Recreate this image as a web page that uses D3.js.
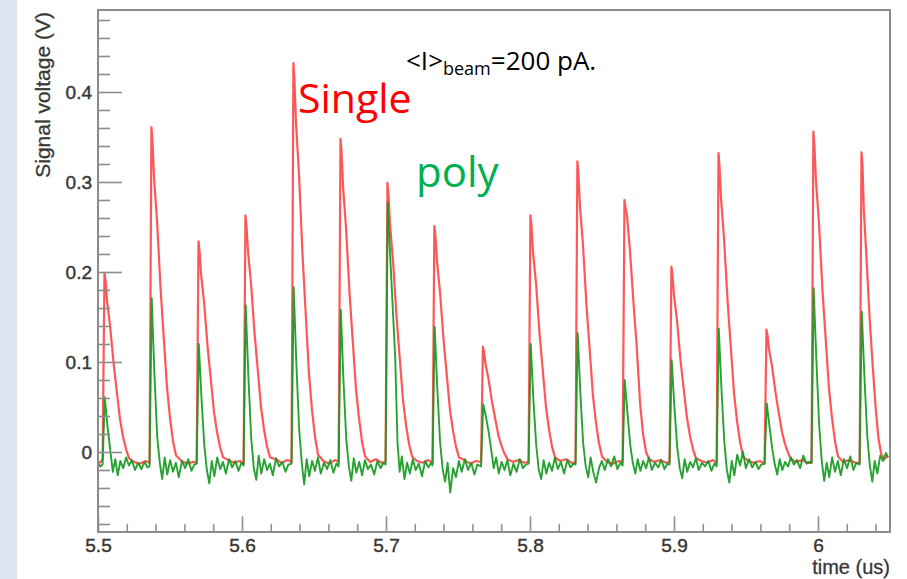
<!DOCTYPE html>
<html><head><meta charset="utf-8">
<script src="https://cdn.jsdelivr.net/npm/d3@7"></script>
<style>
html,body{margin:0;padding:0;background:#fff;}
svg{display:block;}
</style></head><body>
<svg id="chart" width="907" height="579"></svg>
<script>
// ---- axis definitions ----
const xDomain = [5.5, 6.05];
const yDomain = [-0.0889, 0.4911];
const xMajorTicks = [5.5, 5.6, 5.7, 5.8, 5.9, 6.0];
const xTickLabels = ["5.5", "5.6", "5.7", "5.8", "5.9", "6"];
const xMinorTicks = [5.52,5.54,5.56,5.58,5.62,5.64,5.66,5.68,5.72,5.74,5.76,5.78,5.82,5.84,5.86,5.88,5.92,5.94,5.96,5.98,6.02,6.04];
const yMajorTicks = [0, 0.1, 0.2, 0.3, 0.4];
const yTickLabels = ["0", "0.1", "0.2", "0.3", "0.4"];
const yMinorTicks = [-0.08,-0.06,-0.04,-0.02,0.02,0.04,0.06,0.08,0.12,0.14,0.16,0.18,0.22,0.24,0.26,0.28,0.32,0.34,0.36,0.38,0.42,0.44,0.46,0.48];
const xTitle = "time (us)";
const yTitle = "Signal voltage (V)";
const seriesNames = ["Single", "poly"];

// ---- "Single" (red) trace: [time us, volts] ----
const singleSeries = [
[5.5000,-0.012],[5.5020,-0.011],[5.5032,-0.008],[5.5045,0.199],[5.5052,0.191],[5.5063,0.168],[5.5084,0.140],[5.5108,0.099],[5.5129,0.069],[5.5153,0.036],[5.5174,0.017],[5.5195,0.003],[5.5216,-0.007],[5.5250,-0.011],[5.5290,-0.013],[5.5330,-0.010],
[5.5358,-0.012],[5.5371,0.361],[5.5378,0.346],[5.5389,0.305],[5.5410,0.257],[5.5434,0.183],[5.5455,0.131],[5.5479,0.072],[5.5500,0.038],[5.5521,0.012],[5.5542,-0.004],[5.5580,-0.010],[5.5620,-0.013],[5.5660,-0.011],
[5.5685,-0.012],[5.5698,0.234],[5.5705,0.224],[5.5716,0.197],[5.5737,0.166],[5.5761,0.117],[5.5782,0.083],[5.5806,0.044],[5.5827,0.022],[5.5848,0.005],[5.5869,-0.006],[5.5905,-0.009],[5.5945,-0.012],[5.5985,-0.010],
[5.6011,-0.013],[5.6024,0.263],[5.6031,0.252],[5.6042,0.222],[5.6063,0.187],[5.6087,0.132],[5.6108,0.094],[5.6132,0.050],[5.6153,0.025],[5.6174,0.006],[5.6195,-0.006],[5.6235,-0.008],[5.6275,-0.012],[5.6315,-0.009],
[5.6344,-0.011],[5.6357,0.432],[5.6364,0.414],[5.6375,0.366],[5.6396,0.308],[5.6420,0.220],[5.6441,0.158],[5.6465,0.087],[5.6486,0.047],[5.6507,0.017],[5.6528,-0.003],[5.6565,-0.010],[5.6605,-0.013],[5.6645,-0.009],
[5.6671,-0.011],[5.6684,0.348],[5.6691,0.334],[5.6702,0.294],[5.6723,0.248],[5.6747,0.176],[5.6768,0.126],[5.6792,0.069],[5.6813,0.037],[5.6834,0.011],[5.6855,-0.005],[5.6890,-0.011],[5.6930,-0.008],[5.6970,-0.012],
[5.6997,-0.011],[5.7010,0.299],[5.7017,0.287],[5.7028,0.253],[5.7049,0.212],[5.7073,0.151],[5.7094,0.107],[5.7118,0.058],[5.7139,0.030],[5.7160,0.009],[5.7181,-0.005],[5.7215,-0.010],[5.7255,-0.012],[5.7295,-0.009],
[5.7323,-0.012],[5.7336,0.251],[5.7343,0.241],[5.7354,0.212],[5.7375,0.178],[5.7399,0.126],[5.7420,0.089],[5.7444,0.047],[5.7465,0.024],[5.7486,0.006],[5.7507,-0.006],[5.7545,-0.009],[5.7585,-0.013],[5.7625,-0.010],
[5.7660,-0.011],[5.7673,0.117],[5.7680,0.112],[5.7691,0.098],[5.7712,0.081],[5.7736,0.056],[5.7757,0.038],[5.7781,0.018],[5.7802,0.007],[5.7823,-0.002],[5.7844,-0.008],[5.7880,-0.011],[5.7920,-0.009],[5.7960,-0.012],
[5.7990,-0.011],[5.8003,0.263],[5.8010,0.252],[5.8021,0.222],[5.8042,0.187],[5.8066,0.132],[5.8087,0.094],[5.8111,0.050],[5.8132,0.025],[5.8153,0.006],[5.8174,-0.006],[5.8210,-0.010],[5.8250,-0.008],[5.8290,-0.012],
[5.8316,-0.012],[5.8329,0.323],[5.8336,0.310],[5.8347,0.273],[5.8368,0.230],[5.8392,0.163],[5.8413,0.117],[5.8437,0.063],[5.8458,0.033],[5.8479,0.010],[5.8500,-0.005],[5.8535,-0.011],[5.8575,-0.013],[5.8615,-0.010],
[5.8643,-0.011],[5.8656,0.280],[5.8663,0.272],[5.8674,0.262],[5.8695,0.222],[5.8719,0.165],[5.8740,0.120],[5.8764,0.055],[5.8785,0.020],[5.8806,0.000],[5.8827,-0.008],[5.8865,-0.011],[5.8905,-0.009],[5.8945,-0.012],
[5.8969,-0.011],[5.8982,0.206],[5.8989,0.197],[5.9000,0.174],[5.9021,0.146],[5.9045,0.102],[5.9066,0.072],[5.9090,0.038],[5.9111,0.018],[5.9132,0.003],[5.9153,-0.007],[5.9190,-0.010],[5.9230,-0.012],[5.9270,-0.009],
[5.9296,-0.012],[5.9309,0.332],[5.9316,0.318],[5.9327,0.281],[5.9348,0.236],[5.9372,0.168],[5.9393,0.120],[5.9417,0.065],[5.9438,0.034],[5.9459,0.011],[5.9480,-0.005],[5.9515,-0.010],[5.9555,-0.012],[5.9595,-0.010],
[5.9629,-0.013],[5.9642,0.136],[5.9649,0.130],[5.9660,0.114],[5.9681,0.095],[5.9705,0.066],[5.9726,0.045],[5.9750,0.022],[5.9771,0.009],[5.9792,-0.001],[5.9813,-0.008],[5.9850,-0.011],[5.9890,-0.009],[5.9930,-0.012],
[5.9955,-0.012],[5.9968,0.356],[5.9975,0.341],[5.9986,0.301],[6.0007,0.254],[6.0031,0.180],[6.0052,0.129],[6.0076,0.071],[6.0097,0.038],[6.0118,0.012],[6.0139,-0.005],[6.0175,-0.011],[6.0215,-0.009],[6.0260,-0.012],
[6.0289,-0.012],[6.0302,0.333],[6.0309,0.319],[6.0318,0.270],[6.0337,0.215],[6.0358,0.150],[6.0378,0.100],[6.0400,0.050],[6.0420,0.015],[6.0440,-0.003],[6.0460,-0.008],[6.0486,-0.004]
];

// ---- "poly" (green) trace: [time us, volts] ----
const polySeries = [
[5.5000,-0.012],[5.5015,-0.016],[5.5032,-0.014],[5.5047,0.061],[5.5065,0.030],[5.5085,0.002],[5.5103,-0.022],[5.5120,-0.008],[5.5137,-0.026],[5.5155,-0.010],[5.5175,-0.018],[5.5195,-0.006],[5.5215,-0.015],[5.5235,-0.009],[5.5257,-0.020],[5.5279,-0.012],[5.5301,-0.019],[5.5323,-0.011],[5.5343,-0.017],
[5.5358,-0.016],[5.5373,0.171],[5.5391,0.090],[5.5411,0.017],[5.5429,-0.012],[5.5446,-0.030],[5.5463,-0.006],[5.5481,-0.025],[5.5501,-0.009],[5.5521,-0.022],[5.5541,-0.012],[5.5561,-0.028],[5.5583,-0.010],[5.5605,-0.018],[5.5627,-0.008],[5.5649,-0.021],[5.5669,-0.014],
[5.5685,-0.013],[5.5700,0.120],[5.5718,0.062],[5.5738,0.008],[5.5756,-0.020],[5.5773,-0.035],[5.5790,-0.010],[5.5808,-0.027],[5.5828,-0.006],[5.5848,-0.019],[5.5868,-0.011],[5.5888,-0.024],[5.5910,-0.008],[5.5932,-0.017],[5.5954,-0.010],[5.5976,-0.021],[5.5996,-0.012],
[5.6011,-0.015],[5.6026,0.163],[5.6044,0.085],[5.6064,0.015],[5.6082,-0.018],[5.6099,-0.031],[5.6116,-0.004],[5.6134,-0.024],[5.6154,-0.008],[5.6174,-0.020],[5.6194,-0.013],[5.6214,-0.026],[5.6236,-0.007],[5.6258,-0.016],[5.6280,-0.011],[5.6302,-0.022],[5.6322,-0.014],
[5.6344,-0.013],[5.6359,0.183],[5.6377,0.100],[5.6397,0.025],[5.6415,-0.012],[5.6432,-0.036],[5.6449,-0.008],[5.6467,-0.027],[5.6487,-0.010],[5.6507,-0.021],[5.6527,-0.006],[5.6547,-0.024],[5.6569,-0.012],[5.6591,-0.019],[5.6613,-0.009],[5.6635,-0.023],[5.6655,-0.013],
[5.6671,-0.016],[5.6686,0.158],[5.6704,0.082],[5.6724,0.014],[5.6742,-0.016],[5.6759,-0.032],[5.6776,-0.007],[5.6794,-0.023],[5.6814,-0.011],[5.6834,-0.026],[5.6854,-0.009],[5.6874,-0.019],[5.6896,-0.014],[5.6918,-0.025],[5.6940,-0.010],[5.6962,-0.018],[5.6982,-0.012],
[5.6997,-0.014],[5.7012,0.277],[5.7030,0.215],[5.7050,0.150],[5.7064,0.105],[5.7080,0.010],[5.7095,-0.022],[5.7110,-0.005],[5.7128,-0.030],[5.7146,-0.012],[5.7166,-0.024],[5.7186,-0.008],[5.7206,-0.020],[5.7228,-0.013],[5.7250,-0.027],[5.7272,-0.010],[5.7294,-0.017],[5.7314,-0.012],
[5.7323,-0.015],[5.7338,0.139],[5.7356,0.072],[5.7376,0.010],[5.7394,-0.020],[5.7411,-0.033],[5.7428,-0.012],[5.7446,-0.045],[5.7466,-0.018],[5.7486,-0.028],[5.7506,-0.010],[5.7526,-0.022],[5.7548,-0.008],[5.7570,-0.020],[5.7592,-0.012],[5.7614,-0.025],[5.7634,-0.014],
[5.7660,-0.016],[5.7675,0.053],[5.7693,0.040],[5.7713,0.022],[5.7731,0.002],[5.7748,-0.018],[5.7765,-0.006],[5.7783,-0.024],[5.7803,-0.011],[5.7823,-0.020],[5.7843,-0.009],[5.7863,-0.026],[5.7885,-0.013],[5.7907,-0.022],[5.7929,-0.008],[5.7951,-0.018],[5.7971,-0.014],
[5.7990,-0.013],[5.8005,0.120],[5.8023,0.060],[5.8043,0.008],[5.8061,-0.020],[5.8078,-0.030],[5.8095,-0.009],[5.8113,-0.024],[5.8133,-0.012],[5.8153,-0.021],[5.8173,-0.006],[5.8193,-0.019],[5.8215,-0.011],[5.8237,-0.024],[5.8259,-0.009],[5.8281,-0.017],[5.8301,-0.013],
[5.8316,-0.014],[5.8331,0.132],[5.8349,0.068],[5.8369,0.010],[5.8387,-0.016],[5.8404,-0.028],[5.8421,-0.006],[5.8439,-0.022],[5.8459,-0.034],[5.8479,-0.018],[5.8499,-0.010],[5.8519,-0.020],[5.8541,-0.008],[5.8563,-0.016],[5.8585,-0.005],[5.8607,-0.019],[5.8627,-0.012],
[5.8643,-0.015],[5.8658,0.080],[5.8676,0.045],[5.8696,0.008],[5.8714,-0.012],[5.8731,-0.024],[5.8748,-0.008],[5.8766,-0.021],[5.8786,-0.010],[5.8806,-0.018],[5.8826,-0.006],[5.8846,-0.020],[5.8868,-0.012],[5.8890,-0.017],[5.8912,-0.009],[5.8934,-0.019],[5.8954,-0.013],
[5.8969,-0.014],[5.8984,0.102],[5.9002,0.052],[5.9022,0.006],[5.9040,-0.018],[5.9057,-0.029],[5.9074,-0.008],[5.9092,-0.022],[5.9112,-0.011],[5.9132,-0.017],[5.9152,-0.007],[5.9172,-0.020],[5.9194,-0.012],[5.9216,-0.016],[5.9238,-0.010],[5.9260,-0.021],[5.9280,-0.013],
[5.9296,-0.016],[5.9311,0.137],[5.9329,0.072],[5.9349,0.012],[5.9367,-0.020],[5.9384,-0.034],[5.9401,-0.010],[5.9419,-0.026],[5.9439,-0.003],[5.9459,-0.015],[5.9479,0.000],[5.9499,-0.018],[5.9521,-0.008],[5.9543,-0.017],[5.9565,-0.011],[5.9587,-0.019],[5.9607,-0.014],
[5.9629,-0.013],[5.9644,0.054],[5.9662,0.030],[5.9682,0.004],[5.9700,-0.014],[5.9717,-0.025],[5.9734,-0.008],[5.9752,-0.020],[5.9772,-0.011],[5.9792,-0.016],[5.9812,-0.006],[5.9832,-0.014],[5.9854,-0.009],[5.9876,-0.018],[5.9898,-0.004],[5.9920,-0.013],[5.9940,-0.011],
[5.9955,-0.012],[5.9970,0.182],[5.9988,0.105],[6.0008,0.030],[6.0026,-0.010],[6.0043,-0.032],[6.0060,-0.012],[6.0078,-0.028],[6.0098,-0.006],[6.0118,-0.022],[6.0138,-0.010],[6.0158,-0.026],[6.0180,-0.008],[6.0202,-0.018],[6.0224,-0.005],[6.0246,-0.020],[6.0266,-0.012],
[6.0289,-0.014],[6.0304,0.156],[6.0322,0.085],[6.0342,0.018],[6.0360,-0.015],[6.0377,-0.033],[6.0394,-0.010],[6.0412,-0.024],[6.0432,-0.004],[6.0452,-0.010],[6.0472,-0.001],[6.0486,-0.006]
];

// ---- layout ----
const W = 907, H = 579;
const plot = {left: 98, right: 890, top: 10, bottom: 532};
const axisColor = "#8c8c8c";
const labelColor = "#383838";
const tickFont = "'Liberation Sans', Arial, Helvetica, sans-serif";

const svg = d3.select("#chart");
svg.append("rect").attr("x",0).attr("y",0).attr("width",W).attr("height",H).attr("fill","#ffffff");
svg.append("rect").attr("x",0).attr("y",0).attr("width",17).attr("height",H).attr("fill","#dce6f2");

const x = d3.scaleLinear().domain(xDomain).range([plot.left, plot.right]);
const y = d3.scaleLinear().domain(yDomain).range([plot.bottom, plot.top]);

svg.append("defs").append("clipPath").attr("id","clip")
  .append("rect").attr("x",plot.left).attr("y",plot.top)
  .attr("width",plot.right-plot.left).attr("height",plot.bottom-plot.top);

// traces
const line = d3.line().x(d => x(d[0])).y(d => y(d[1]));
const g = svg.append("g").attr("clip-path","url(#clip)");
g.append("path").datum(singleSeries).attr("d", line)
  .attr("fill","none").attr("stroke","#ff3a3a").attr("stroke-width",2.2)
  .attr("stroke-opacity",0.85).attr("stroke-linejoin","round");
g.append("path").datum(polySeries).attr("d", line)
  .attr("fill","none").attr("stroke","#159a1f").attr("stroke-width",1.9)
  .attr("stroke-opacity",0.92).attr("stroke-linejoin","round");

// axes
function styleAxis(sel){
  sel.select(".domain").remove();
  sel.selectAll(".tick line").attr("stroke",axisColor).attr("stroke-width",1.6);
  sel.selectAll("text").attr("fill",labelColor).attr("font-family",tickFont)
     .attr("font-size",19).attr("stroke",labelColor).attr("stroke-width",0.45);
}
const yAxis = svg.append("g").attr("transform",`translate(${plot.left},0)`)
  .call(d3.axisLeft(y).tickValues(yMajorTicks).tickSize(-24).tickPadding(6)
        .tickFormat((d,i)=>yTickLabels[i]));
styleAxis(yAxis);
const yAxisMinor = svg.append("g").attr("transform",`translate(${plot.left},0)`)
  .call(d3.axisLeft(y).tickValues(yMinorTicks).tickSize(-12).tickFormat(""));
styleAxis(yAxisMinor);

const xAxis = svg.append("g").attr("transform",`translate(0,${plot.bottom})`)
  .call(d3.axisBottom(x).tickValues(xMajorTicks).tickSize(-15.6).tickPadding(7)
        .tickFormat((d,i)=>xTickLabels[i]));
styleAxis(xAxis);
const xAxisMinor = svg.append("g").attr("transform",`translate(0,${plot.bottom})`)
  .call(d3.axisBottom(x).tickValues(xMinorTicks).tickSize(-7.8).tickFormat(""));
styleAxis(xAxisMinor);

// frame
svg.append("rect").attr("x",plot.left).attr("y",plot.top)
  .attr("width",plot.right-plot.left).attr("height",plot.bottom-plot.top)
  .attr("fill","none").attr("stroke",axisColor).attr("stroke-width",2);

// axis titles
svg.append("text").attr("x",plot.right).attr("y",574).attr("text-anchor","end")
  .attr("font-family",tickFont).attr("font-size",20).attr("fill",labelColor)
  .attr("stroke",labelColor).attr("stroke-width",0.3).text(xTitle);
svg.append("text").attr("transform","translate(50,12) rotate(-90)").attr("text-anchor","end")
  .attr("font-family",tickFont).attr("font-size",21).attr("fill",labelColor)
  .attr("stroke",labelColor).attr("stroke-width",0.3).text(yTitle);

// annotations
const annFont = "'Open Sans', Lato, sans-serif";
const beam = svg.append("text").attr("x",406).attr("y",70)
  .attr("font-family",annFont).attr("font-size",26).attr("fill","#000");
beam.append("tspan").text("<I>");
beam.append("tspan").attr("font-size",18).attr("dy",5).text("beam");
beam.append("tspan").attr("dy",-5).text("=200 pA.");

svg.append("text").attr("x",298).attr("y",113).attr("font-family",annFont)
  .attr("font-size",41).attr("fill","#ff0000").text(seriesNames[0]);
svg.append("text").attr("x",416).attr("y",187).attr("font-family",annFont)
  .attr("font-size",42).attr("fill","#00b050").text(seriesNames[1]);
</script>
</body></html>
